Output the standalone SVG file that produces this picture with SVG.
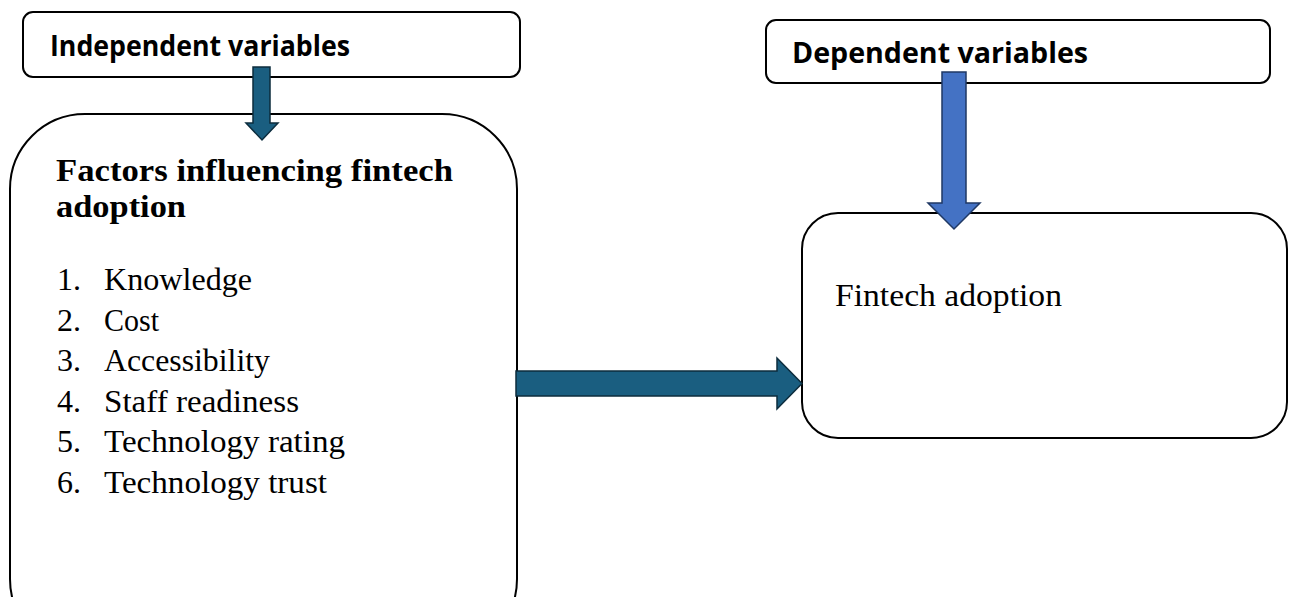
<svg xmlns="http://www.w3.org/2000/svg" width="1301" height="597" viewBox="0 0 1301 597">
<style>
.box{fill:#fff;stroke:#000;stroke-width:2}
.hdr{font-family:"Open Sans","DejaVu Sans",sans-serif;font-weight:bold;font-size:28px;fill:#000}
.ser{font-family:"Liberation Serif",serif;font-size:32px;fill:#000}
.serb{font-family:"Liberation Serif",serif;font-size:31px;font-weight:bold;fill:#000}
.teal{fill:#1a5e80;stroke:#0c2c3d;stroke-width:1.5}
.blue{fill:#4472c4;stroke:#1f3864;stroke-width:1.5}
</style>
<rect width="1301" height="597" fill="#fff"/>
<g id="independent">
<rect class="box" x="23" y="12" width="497" height="65" rx="10"/>
<text class="hdr" x="50" y="56" textLength="300" lengthAdjust="spacingAndGlyphs">Independent variables</text>
</g>
<g id="dependent">
<rect class="box" x="766" y="20" width="504" height="63" rx="10"/>
<text class="hdr" x="792" y="63" textLength="296" lengthAdjust="spacingAndGlyphs">Dependent variables</text>
</g>
<g id="factors">
<rect class="box" x="10" y="114" width="507" height="540" rx="75"/>
<text class="serb" x="56" y="181" textLength="397" lengthAdjust="spacingAndGlyphs">Factors influencing fintech</text>
<text class="serb" x="56" y="217" textLength="130" lengthAdjust="spacingAndGlyphs">adoption</text>
<text class="ser" x="57" y="290">1.</text><text class="ser" x="104" y="290" textLength="148" lengthAdjust="spacingAndGlyphs">Knowledge</text>
<text class="ser" x="57" y="331">2.</text><text class="ser" x="104" y="331" textLength="55" lengthAdjust="spacingAndGlyphs">Cost</text>
<text class="ser" x="57" y="371">3.</text><text class="ser" x="104" y="371" textLength="166" lengthAdjust="spacingAndGlyphs">Accessibility</text>
<text class="ser" x="57" y="412">4.</text><text class="ser" x="104" y="412" textLength="195" lengthAdjust="spacingAndGlyphs">Staff readiness</text>
<text class="ser" x="57" y="452">5.</text><text class="ser" x="104" y="452" textLength="241" lengthAdjust="spacingAndGlyphs">Technology rating</text>
<text class="ser" x="57" y="493">6.</text><text class="ser" x="104" y="493" textLength="223" lengthAdjust="spacingAndGlyphs">Technology trust</text>
</g>
<g id="fintech">
<rect class="box" x="802" y="213" width="485" height="225" rx="36"/>
<text class="ser" x="835" y="306" textLength="227" lengthAdjust="spacingAndGlyphs">Fintech adoption</text>
</g>
<g id="connectors">
<path class="teal" d="M253,67 H270 V123 H278 L262,140 L246,123 H253 Z"/>
<path class="blue" d="M942,72 H966 V203 H980 L954,229 L928,203 H942 Z"/>
<path class="teal" d="M516,371 H777 V358 L802,383.5 L777,409 V396 H516 Z"/>
</g>
</svg>
